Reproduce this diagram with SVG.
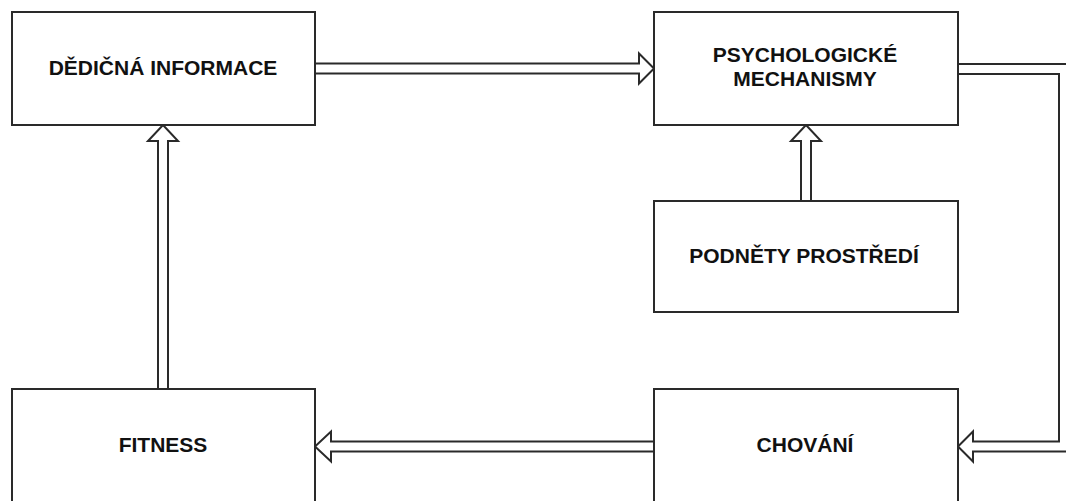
<svg xmlns="http://www.w3.org/2000/svg" width="1066" height="501" viewBox="0 0 1066 501">
  <style>
    .box { fill: #ffffff; stroke: #2a2a2a; stroke-width: 2; }
    .lbl { font-family: "Liberation Sans", Arial, sans-serif; font-weight: bold; font-size: 21px; fill: #111111; text-anchor: middle; }
    .arrow { fill: #ffffff; stroke: #2a2a2a; stroke-width: 2; stroke-linejoin: miter; }
  </style>
  <rect width="1066" height="501" fill="#ffffff"/>
  <g id="connectors">
    <path class="arrow" d="M315,63.5 H639 V53.5 L654,68.5 L639,83.5 V73.5 H315 Z"/>
    <path class="arrow" d="M801,201 V141 H791 L806,125 L821,141 H811 V201 Z"/>
    <path class="arrow" d="M158,389 V141 H148 L163,125 L178,141 H168 V389 Z"/>
    <path class="arrow" d="M654,441.5 H331 V431.5 L315,446.5 L331,461.5 V451.5 H654 Z"/>
    <path class="arrow" d="M958,64 H1072 V451.5 H973 V461.5 L958,446.5 L973,431.5 V441.5 H1059 V74 H958 Z"/>
  </g>
  <g id="node-dedicna">
    <rect class="box" x="12" y="12" width="303" height="113"/>
    <text class="lbl" x="163" y="75">DĚDIČNÁ INFORMACE</text>
  </g>
  <g id="node-psych">
    <rect class="box" x="654" y="12" width="304" height="113"/>
    <text class="lbl" x="805" y="62">PSYCHOLOGICKÉ</text>
    <text class="lbl" x="805" y="86">MECHANISMY</text>
  </g>
  <g id="node-podnety">
    <rect class="box" x="654" y="201" width="304" height="111"/>
    <text class="lbl" x="804" y="263">PODNĚTY PROSTŘEDÍ</text>
  </g>
  <g id="node-chovani">
    <rect class="box" x="654" y="389" width="304" height="130"/>
    <text class="lbl" x="805" y="452">CHOVÁNÍ</text>
  </g>
  <g id="node-fitness">
    <rect class="box" x="12" y="389" width="303" height="130"/>
    <text class="lbl" x="163" y="452">FITNESS</text>
  </g>
</svg>
